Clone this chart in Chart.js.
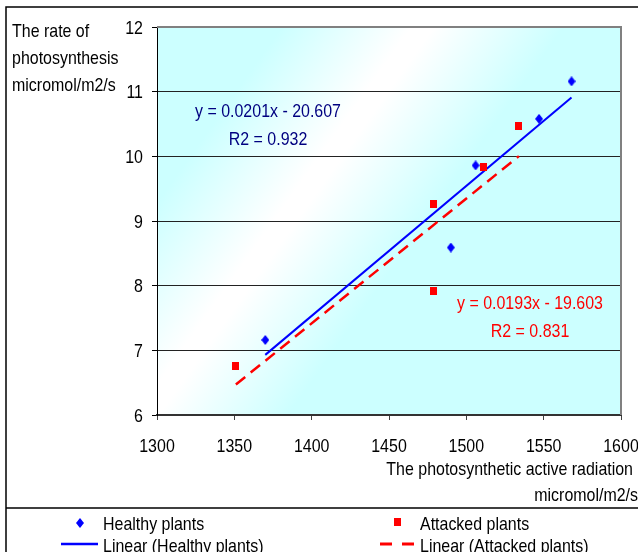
<!DOCTYPE html>
<html>
<head>
<meta charset="utf-8">
<title>Photosynthesis vs PAR</title>
<script src="https://cdn.jsdelivr.net/npm/chart.js@4/dist/chart.umd.min.js"></script>
<style>
  html, body { margin: 0; padding: 0; background: #fff; }
  canvas { display: block; }
</style>
</head>
<body>
<canvas id="grafico" width="638" height="552"></canvas>
<script>
// --- datos ---
const healthyX = [1370, 1490, 1506, 1547, 1568];
const healthyY = [7.16, 8.59, 9.86, 10.58, 11.16];
const attackedX = [1351, 1479, 1479, 1511, 1534];
const attackedY = [6.76, 9.26, 7.92, 9.84, 10.47];

// regresiones lineales (pendiente, ordenada, R2)
const healthyFit = [0.0201, -20.607, 0.932];
const attackedFit = [0.0193, -19.603, 0.831];

const yTitle = ['The rate of', 'photosynthesis', 'micromol/m2/s'];
const xTitle = ['The photosynthetic active radiation', 'micromol/m2/s'];
const seriesNames = ['Healthy plants', 'Attacked plants'];

const AZUL = '#0000ff';
const ROJO = '#ff0000';
const FONT = '"Liberation Sans", Arial, sans-serif';
const FONT_SIZE = 19;
const SX = 0.84; // texto algo comprimido

function toPoints(xs, ys) {
  return xs.map((x, i) => ({ x, y: ys[i] }));
}

function fitLine(xs, fit) {
  const x0 = Math.min(...xs);
  const x1 = Math.max(...xs);
  return [
    { x: x0, y: fit[0] * x0 + fit[1] },
    { x: x1, y: fit[0] * x1 + fit[1] },
  ];
}

function fmtEq(fit) {
  const sign = fit[1] < 0 ? ' - ' : ' + ';
  return 'y = ' + fit[0].toFixed(4) + 'x' + sign + Math.abs(fit[1]).toFixed(3);
}

// marcadores pequeños
function diamondCanvas(w, h, color) {
  const c = document.createElement('canvas');
  c.width = w; c.height = h;
  const g = c.getContext('2d');
  g.fillStyle = color;
  g.beginPath();
  g.moveTo(w / 2, 0);
  g.lineTo(w, h / 2);
  g.lineTo(w / 2, h);
  g.lineTo(0, h / 2);
  g.closePath();
  g.fill();
  return c;
}

function squareCanvas(w, h, color) {
  const c = document.createElement('canvas');
  c.width = w; c.height = h;
  const g = c.getContext('2d');
  g.fillStyle = color;
  g.fillRect(0, 0, w, h);
  return c;
}

const diamond = diamondCanvas(8, 10, AZUL);
const square = squareCanvas(7, 8, ROJO);

function text(ctx, str, x, y, align, color) {
  ctx.save();
  ctx.translate(x, y);
  ctx.scale(SX, 1);
  ctx.font = FONT_SIZE + 'px ' + FONT;
  ctx.textAlign = align;
  ctx.textBaseline = 'alphabetic';
  ctx.fillStyle = color;
  ctx.fillText(str, 0, 0);
  ctx.restore();
}

// ====================================================
//  FONDO: degradado diagonal cian / blanco
// ====================================================
const fondoPlugin = {
  id: 'fondo',
  beforeDraw(chart) {
    const { ctx, chartArea: a } = chart;
    ctx.save();
    ctx.fillStyle = '#fff';
    ctx.fillRect(0, 0, chart.width, chart.height);

    const cx = 300, cy = 200, dx = 0.815, dy = 0.579, w = 115;
    const grad = ctx.createLinearGradient(cx - dx * w, cy - dy * w, cx + dx * w, cy + dy * w);
    grad.addColorStop(0, '#ccffff');
    grad.addColorStop(0.46, '#ffffff');
    grad.addColorStop(0.54, '#ffffff');
    grad.addColorStop(1, '#ccffff');
    ctx.fillStyle = grad;
    ctx.fillRect(a.left, a.top, a.right - a.left, a.bottom - a.top);
    ctx.restore();
  },
  beforeDatasetsDraw(chart) {
    const { ctx, chartArea: a } = chart;
    // borde gris superior y derecho del área
    ctx.save();
    ctx.strokeStyle = '#808080';
    ctx.lineWidth = 2;
    ctx.beginPath();
    ctx.moveTo(a.left, a.top);
    ctx.lineTo(a.right, a.top);
    ctx.lineTo(a.right, a.bottom);
    ctx.stroke();
    ctx.restore();
  },
};

// ====================================================
//  TEXTOS: ejes, títulos, ecuaciones y leyenda
// ====================================================
const textosPlugin = {
  id: 'textos',
  afterDraw(chart) {
    const { ctx } = chart;
    const sx = chart.scales.x;
    const sy = chart.scales.y;

    // marco exterior
    ctx.save();
    ctx.strokeStyle = '#000';
    ctx.lineWidth = 1.5;
    ctx.beginPath();
    ctx.moveTo(638, 7);
    ctx.lineTo(6, 7);
    ctx.lineTo(6, 552);
    ctx.moveTo(6, 508);
    ctx.lineTo(638, 508);
    ctx.stroke();
    ctx.restore();

    // etiquetas de los ejes
    sy.ticks.forEach((t) => {
      text(ctx, String(t.value), 143, sy.getPixelForValue(t.value) + 6.8, 'right', '#000');
    });
    sx.ticks.forEach((t) => {
      text(ctx, String(t.value), sx.getPixelForValue(t.value), 451.5, 'center', '#000');
    });

    // títulos
    yTitle.forEach((s, i) => text(ctx, s, 12, 36.7 + i * 27, 'left', '#000'));
    text(ctx, xTitle[0], 633, 474.5, 'right', '#000');
    text(ctx, xTitle[1], 638, 501, 'right', '#000');

    // ecuaciones de las tendencias
    text(ctx, fmtEq(healthyFit), 268, 117.3, 'center', '#000080');
    text(ctx, 'R2 = ' + healthyFit[2].toFixed(3), 268, 145, 'center', '#000080');
    text(ctx, fmtEq(attackedFit), 530, 309.3, 'center', ROJO);
    text(ctx, 'R2 = ' + attackedFit[2].toFixed(3), 530, 336.7, 'center', ROJO);

    // leyenda
    ctx.save();
    ctx.drawImage(diamond, 80 - 4, 523 - 5);
    ctx.drawImage(square, 397 - 3.5, 522 - 4);
    ctx.lineWidth = 2.5;
    ctx.strokeStyle = AZUL;
    ctx.beginPath();
    ctx.moveTo(61, 544);
    ctx.lineTo(98, 544);
    ctx.stroke();
    ctx.strokeStyle = ROJO;
    ctx.lineWidth = 3;
    ctx.beginPath();
    ctx.moveTo(380, 544);
    ctx.lineTo(392, 544);
    ctx.moveTo(402, 544);
    ctx.lineTo(414, 544);
    ctx.stroke();
    ctx.restore();

    text(ctx, seriesNames[0], 103, 530, 'left', '#000');
    text(ctx, 'Linear (' + seriesNames[0] + ')', 103, 551.5, 'left', '#000');
    text(ctx, seriesNames[1], 420, 530, 'left', '#000');
    text(ctx, 'Linear (' + seriesNames[1] + ')', 420, 551.5, 'left', '#000');
  },
};

const chart = new Chart(document.getElementById('grafico'), {
  type: 'scatter',
  data: {
    datasets: [
      {
        label: seriesNames[0],
        data: toPoints(healthyX, healthyY),
        pointStyle: diamond,
        backgroundColor: AZUL,
        borderColor: AZUL,
      },
      {
        label: seriesNames[1],
        data: toPoints(attackedX, attackedY),
        pointStyle: square,
        backgroundColor: ROJO,
        borderColor: ROJO,
      },
      {
        label: 'Linear (' + seriesNames[0] + ')',
        data: fitLine(healthyX, healthyFit),
        showLine: true,
        pointRadius: 0,
        borderColor: AZUL,
        borderWidth: 2,
      },
      {
        label: 'Linear (' + seriesNames[1] + ')',
        data: fitLine(attackedX, attackedFit),
        showLine: true,
        pointRadius: 0,
        borderColor: ROJO,
        borderWidth: 2.5,
        borderDash: [12, 7],
      },
    ],
  },
  options: {
    responsive: false,
    animation: false,
    events: [],
    layout: { padding: { left: 0, top: 27, right: 17, bottom: 0 } },
    plugins: {
      legend: { display: false },
      tooltip: { enabled: false },
    },
    scales: {
      x: {
        type: 'linear',
        min: 1300,
        max: 1600,
        ticks: { stepSize: 50, display: false },
        grid: { drawOnChartArea: false, drawTicks: true, tickLength: 5, color: '#404040' },
        border: { color: '#333', width: 2 },
        afterFit(scale) { scale.height = 137; },
      },
      y: {
        type: 'linear',
        min: 6,
        max: 12,
        ticks: { stepSize: 1, display: false },
        grid: {
          tickLength: 5,
          tickColor: '#000',
          color: (c) => (c.tick && c.tick.value === 12 ? 'rgba(0,0,0,0)' : '#222'),
        },
        border: { color: '#000', width: 1 },
        afterFit(scale) { scale.width = 157; },
      },
    },
  },
  plugins: [fondoPlugin, textosPlugin],
});
</script>
</body>
</html>
